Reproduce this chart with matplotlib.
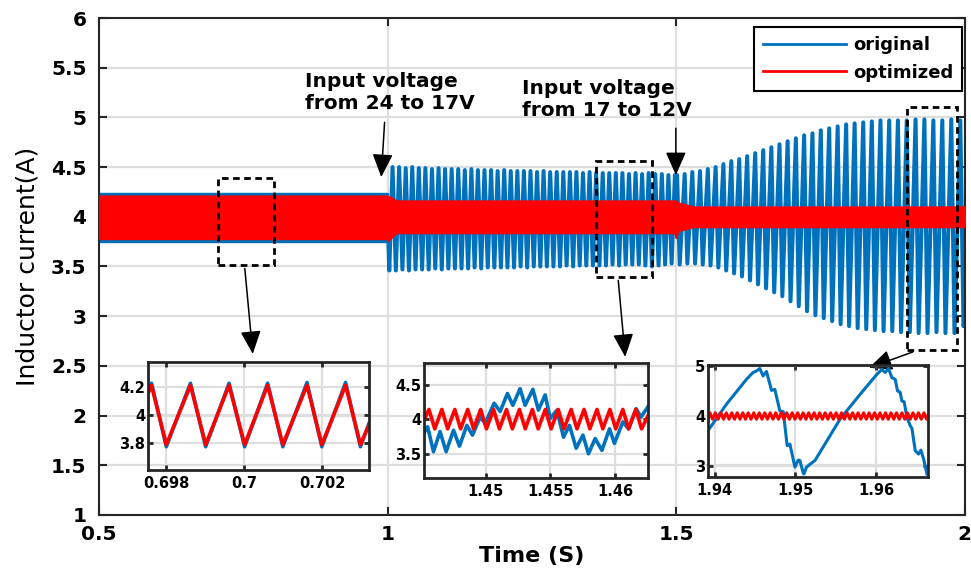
import numpy as np
import matplotlib.pyplot as plt
from matplotlib.patches import Rectangle
from matplotlib.lines import Line2D

# -------------------- DATA --------------------

# 0.5-1.0 s: 1 ms ripple is far too dense at this scale -> drawn as a band
band_t = [0.5, 1.0]
blue_band_hi = [4.24, 4.24]
blue_band_lo = [3.75, 3.75]

# optimized current: ripple band (envelope) over the whole run
red_env_t = [0.5, 1.0, 1.0, 1.004, 1.015, 1.497, 1.5, 1.5, 1.503, 1.53, 2.0]
red_env_hi = [4.21, 4.21, 4.20, 4.20, 4.16, 4.16, 4.16, 4.15, 4.14, 4.10, 4.10]
red_env_lo = [3.78, 3.78, 3.76, 3.78, 3.84, 3.84, 3.79, 3.80, 3.86, 3.90, 3.90]

# original current 1.0-1.5 s (input 17 V): low-frequency oscillation
b_trough_t = [1.0029, 1.0143, 1.0257, 1.0370, 1.0484, 1.0598, 1.0712, 1.0826, 1.0939, 1.1053,
              1.1167, 1.1281, 1.1395, 1.1508, 1.1622, 1.1736, 1.1850, 1.1964, 1.2077, 1.2191,
              1.2305, 1.2419, 1.2533, 1.2646, 1.2760, 1.2874, 1.2988, 1.3102, 1.3215, 1.3329,
              1.3443, 1.3557, 1.3671, 1.3784, 1.3898, 1.4012, 1.4126, 1.4240, 1.4353, 1.4467,
              1.4581, 1.4695, 1.4809, 1.4922]
b_trough_v = [3.46, 3.46, 3.47, 3.46, 3.47, 3.47, 3.47, 3.48, 3.47, 3.48,
              3.48, 3.48, 3.48, 3.49, 3.48, 3.49, 3.49, 3.49, 3.49, 3.49,
              3.50, 3.49, 3.50, 3.50, 3.50, 3.50, 3.50, 3.51, 3.50, 3.51,
              3.51, 3.51, 3.51, 3.51, 3.52, 3.51, 3.52, 3.52, 3.52, 3.51,
              3.50, 3.51, 3.52, 3.53]
b_peak_t = [1.0086, 1.0200, 1.0314, 1.0427, 1.0541, 1.0655, 1.0769, 1.0883, 1.0996, 1.1110,
            1.1224, 1.1338, 1.1452, 1.1565, 1.1679, 1.1793, 1.1907, 1.2021, 1.2134, 1.2248,
            1.2362, 1.2476, 1.2590, 1.2703, 1.2817, 1.2931, 1.3045, 1.3159, 1.3272, 1.3386,
            1.3500, 1.3614, 1.3728, 1.3841, 1.3955, 1.4069, 1.4183, 1.4297, 1.4410, 1.4524,
            1.4638, 1.4752, 1.4866, 1.4979]
b_peak_v = [4.50, 4.50, 4.49, 4.50, 4.49, 4.49, 4.48, 4.49, 4.48, 4.48,
            4.48, 4.47, 4.48, 4.47, 4.47, 4.47, 4.46, 4.47, 4.46, 4.46,
            4.46, 4.46, 4.45, 4.46, 4.45, 4.45, 4.45, 4.45, 4.45, 4.44,
            4.45, 4.44, 4.44, 4.44, 4.44, 4.44, 4.43, 4.44, 4.43, 4.44,
            4.43, 4.43, 4.42, 4.42]

# original current 1.5-2.0 s (input 12 V): growing oscillation
c_peak_t = [1.5016, 1.5148, 1.5281, 1.5414, 1.5549, 1.5684, 1.5819, 1.5956, 1.6093, 1.6231,
            1.6370, 1.6509, 1.6650, 1.6791, 1.6932, 1.7075, 1.7218, 1.7362, 1.7507, 1.7652,
            1.7799, 1.7946, 1.8093, 1.8242, 1.8391, 1.8541, 1.8692, 1.8843, 1.8996, 1.9149,
            1.9302, 1.9457, 1.9612, 1.9768, 1.9924]
c_peak_v = [4.42, 4.43, 4.45, 4.46, 4.48, 4.50, 4.53, 4.56, 4.58, 4.61,
            4.64, 4.67, 4.70, 4.73, 4.76, 4.79, 4.82, 4.84, 4.87, 4.89,
            4.91, 4.93, 4.94, 4.95, 4.96, 4.97, 4.97, 4.97, 4.97, 4.98,
            4.98, 4.97, 4.97, 4.98, 4.97]
c_trough_t = [1.5062, 1.5194, 1.5328, 1.5461, 1.5596, 1.5731, 1.5867, 1.6004, 1.6141, 1.6280,
              1.6419, 1.6558, 1.6699, 1.6840, 1.6982, 1.7125, 1.7268, 1.7413, 1.7558, 1.7704,
              1.7850, 1.7997, 1.8145, 1.8294, 1.8444, 1.8594, 1.8745, 1.8897, 1.9049, 1.9202,
              1.9356, 1.9511, 1.9667, 1.9823, 1.9979]
c_trough_v = [3.52, 3.53, 3.53, 3.52, 3.51, 3.49, 3.46, 3.43, 3.40, 3.36,
              3.32, 3.28, 3.24, 3.20, 3.15, 3.10, 3.05, 3.01, 2.98, 2.95,
              2.92, 2.90, 2.88, 2.87, 2.86, 2.85, 2.85, 2.84, 2.84, 2.83,
              2.83, 2.84, 2.83, 2.83, 2.90]
joint_t = [1.0, 1.5, 2.0]
joint_v = [4.00, 4.00, 2.95]

# inset 1 (around 0.7 s)
in1_t = [0.69753, 0.69762, 0.69800, 0.69862, 0.69901, 0.69961, 0.70001,
         0.70060, 0.70099, 0.70161, 0.70199, 0.70260, 0.70298, 0.70320]
in1_blue = [4.16, 4.225, 3.775, 4.225, 3.775, 4.225, 3.775,
            4.225, 3.775, 4.23, 3.775, 4.23, 3.775, 3.94]
in1_red = [4.15, 4.21, 3.79, 4.21, 3.79, 4.21, 3.79,
           4.21, 3.79, 4.21, 3.79, 4.21, 3.79, 3.93]

# inset 2 (around 1.455 s)
in2_blue_t = [1.44522, 1.44550, 1.44595, 1.44646, 1.44693, 1.44750, 1.44796, 1.44853, 1.44897,
              1.44956, 1.44995, 1.45064, 1.45111, 1.45167, 1.45209, 1.45265, 1.45304, 1.45364,
              1.45407, 1.45459, 1.45498, 1.45550, 1.45601, 1.45647, 1.45699, 1.45751, 1.45794,
              1.45846, 1.45898, 1.45957, 1.45995, 1.46060, 1.46104, 1.46163, 1.46200, 1.46255]
in2_blue_v = [3.80, 3.89, 3.53, 3.82, 3.53, 3.84, 3.61, 3.91, 3.77,
              4.03, 3.94, 4.23, 4.11, 4.37, 4.20, 4.44, 4.20, 4.43,
              4.13, 4.35, 4.01, 4.13, 3.74, 3.91, 3.58, 3.77, 3.50,
              3.72, 3.55, 3.86, 3.65, 3.96, 3.86, 4.15, 4.03, 4.18]
in2_red_t = [1.4452, 1.4456, 1.44605, 1.4466, 1.44705, 1.4476, 1.44805, 1.4486, 1.44905,
             1.4496, 1.45005, 1.4506, 1.45105, 1.4516, 1.45205, 1.4526, 1.45305, 1.4536,
             1.45405, 1.4546, 1.45505, 1.4556, 1.45605, 1.4566, 1.45705, 1.4576, 1.45805,
             1.4586, 1.45905, 1.4596, 1.46005, 1.4606, 1.46105, 1.4616, 1.46205, 1.46255]
in2_red_v = [3.98, 4.14, 3.86, 4.14, 3.86, 4.14, 3.86, 4.14, 3.86,
             4.14, 3.86, 4.14, 3.86, 4.14, 3.86, 4.14, 3.86, 4.14,
             3.86, 4.14, 3.86, 4.14, 3.86, 4.14, 3.86, 4.14, 3.86,
             4.14, 3.86, 4.14, 3.86, 4.14, 3.86, 4.14, 3.86, 4.05]

# inset 3 (around 1.95 s)
in3_blue_t = [1.93917, 1.94150, 1.94393, 1.94476, 1.94518, 1.94559, 1.94600, 1.94642, 1.94704,
              1.94745, 1.94807, 1.94850, 1.94898, 1.94932, 1.94994, 1.95035, 1.95056, 1.95097,
              1.95105, 1.95138, 1.95200, 1.95242, 1.95552, 1.95801, 1.96008, 1.96070, 1.96112,
              1.96153, 1.96194, 1.96236, 1.96265, 1.96298, 1.96318, 1.96347, 1.96380, 1.96422,
              1.96443, 1.96484, 1.96525, 1.96554, 1.96588, 1.96629]
in3_blue_v = [3.70, 4.24, 4.73, 4.87, 4.90, 4.95, 4.80, 4.89, 4.51,
              4.53, 4.10, 4.08, 3.40, 3.43, 2.97, 3.11, 3.10, 2.85,
              2.83, 2.97, 3.05, 3.10, 3.93, 4.43, 4.83, 4.93, 4.87,
              4.95, 4.77, 4.73, 4.50, 4.47, 4.30, 4.28, 3.97, 3.80,
              3.75, 3.30, 3.23, 3.31, 3.13, 2.83]
in3_red_peak_t = [1.93940, 1.94008, 1.94076, 1.94144, 1.94212, 1.94280, 1.94348, 1.94416,
                  1.94484, 1.94552, 1.94620, 1.94688, 1.94756, 1.94824, 1.94892, 1.94960,
                  1.95028, 1.95096, 1.95164, 1.95232, 1.95300, 1.95368, 1.95436, 1.95504,
                  1.95572, 1.95640, 1.95708, 1.95776, 1.95844, 1.95912, 1.95980, 1.96048,
                  1.96116, 1.96184, 1.96252, 1.96320, 1.96388, 1.96456, 1.96524, 1.96592]
in3_red_trough_t = [1.93974, 1.94042, 1.94110, 1.94178, 1.94246, 1.94314, 1.94382, 1.94450,
                    1.94518, 1.94586, 1.94654, 1.94722, 1.94790, 1.94858, 1.94926, 1.94994,
                    1.95062, 1.95130, 1.95198, 1.95266, 1.95334, 1.95402, 1.95470, 1.95538,
                    1.95606, 1.95674, 1.95742, 1.95810, 1.95878, 1.95946, 1.96014, 1.96082,
                    1.96150, 1.96218, 1.96286, 1.96354, 1.96422, 1.96490, 1.96558, 1.96626]
in3_red_hi = 4.06
in3_red_lo = 3.93

# axis ticks
main_xticks = [0.5, 1, 1.5, 2]
main_xlabels = ["0.5", "1", "1.5", "2"]
main_yticks = [1, 1.5, 2, 2.5, 3, 3.5, 4, 4.5, 5, 5.5, 6]
main_ylabels = ["1", "1.5", "2", "2.5", "3", "3.5", "4", "4.5", "5", "5.5", "6"]

BLUE = "#0072BD"
RED = "#FF0000"
GRID = "#dedede"
SPINE = "#262626"

plt.rcParams["font.family"] = ["DejaVu Sans"]
plt.rcParams["font.weight"] = "bold"


def zigzag(ta, va, tb, vb, extra_t=(), extra_v=()):
    t = np.concatenate([ta, tb, extra_t])
    v = np.concatenate([va, vb, extra_v])
    o = np.argsort(t, kind="stable")
    return t[o], v[o]


def style(ax, lw, fs, tick_len):
    for s in ax.spines.values():
        s.set_linewidth(lw)
        s.set_color(SPINE)
    ax.tick_params(direction="in", top=True, right=True, width=lw, length=tick_len,
                   labelsize=fs, color=SPINE)
    ax.grid(True, color=GRID, lw=1.6)
    ax.set_axisbelow(True)


# -------------------- FIGURE --------------------
fig = plt.figure(figsize=(9.71, 5.72), dpi=100)
ax = fig.add_axes([0.1020, 0.0997, 0.8915, 0.8688])

# band region 0.5-1.0 s
ax.fill_between(band_t, blue_band_lo, blue_band_hi, color=BLUE, lw=1, zorder=2)
# oscillating part of the original current
bt, bv = zigzag(b_trough_t, b_trough_v, b_peak_t, b_peak_v)
ct, cv = zigzag(c_peak_t, c_peak_v, c_trough_t, c_trough_v)
blue_t = np.concatenate([[joint_t[0]], bt, [joint_t[1]], ct, [joint_t[2]]])
blue_v = np.concatenate([[joint_v[0]], bv, [joint_v[1]], cv, [joint_v[2]]])
ax.plot(blue_t, blue_v, color=BLUE, lw=2.9, zorder=2)
# optimized current band
ax.fill_between(red_env_t, red_env_lo, red_env_hi, color=RED, lw=1.5, zorder=3)

ax.set_xlim(0.5, 2)
ax.set_ylim(1, 6)
ax.set_xticks(main_xticks, main_xlabels)
ax.set_yticks(main_yticks, main_ylabels)
style(ax, 1.5, 14.5, 6)
ax.tick_params(axis="y", pad=9)
ax.tick_params(axis="x", pad=7)
ax.set_xlabel("Time (S)", fontsize=16, fontweight="bold", labelpad=2)
ax.set_ylabel("Inductor current(A)", fontsize=18, fontweight="normal", labelpad=8)

# legend
handles = [Line2D([], [], color=BLUE, lw=2), Line2D([], [], color=RED, lw=2)]
leg = ax.legend(handles, ["original", "optimized"], loc="upper right",
                bbox_to_anchor=(0.997, 0.981), borderaxespad=0, fontsize=13,
                handlelength=4.6, handletextpad=0.4, borderpad=0.5, labelspacing=0.5,
                fancybox=False, framealpha=1, edgecolor="k")
leg.get_frame().set_linewidth(1.5)

# annotations for the input voltage steps
ax.text(0.8564, 5.46, "Input voltage\nfrom 24 to 17V", ha="left", va="top",
        fontsize=14.5, fontweight="bold", linespacing=1.2)
ax.text(1.2336, 5.39, "Input voltage\nfrom 17 to 12V", ha="left", va="top",
        fontsize=14.5, fontweight="bold", linespacing=1.2)
head = "-|>,head_length=0.95,head_width=0.42"
for start, tip in [((0.9948, 4.95), (0.9890, 4.40)), ((1.4995, 4.89), (1.4995, 4.42)),
                   ((0.7526, 3.48), (0.7664, 2.62)), ((1.3997, 3.36), (1.4118, 2.59)),
                   ((1.9100, 2.64), (1.8340, 2.48))]:
    ax.annotate("", xy=tip, xytext=start,
                arrowprops=dict(arrowstyle=head, color="k", lw=1.1, mutation_scale=15,
                                shrinkA=0, shrinkB=0), zorder=6)

# dashed zoom boxes
for (x0, x1, y0, y1) in [(0.706, 0.8028, 3.515, 4.39), (1.361, 1.459, 3.397, 4.564),
                         (1.900, 1.987, 2.66, 5.108)]:
    ax.add_patch(Rectangle((x0, y0), x1 - x0, y1 - y0, fill=False, ec="k", lw=2,
                           ls=(0, (2.4, 1.6)), zorder=5))

# -------------------- INSETS --------------------
ins1 = fig.add_axes([0.1524, 0.1783, 0.2276, 0.1888])
ins1.plot(in1_t, in1_blue, color=BLUE, lw=2.6)
ins1.plot(in1_t, in1_red, color=RED, lw=2.6)
ins1.set_xlim(0.69753, 0.70320)
ins1.set_ylim(3.61, 4.375)
ins1.set_xticks([0.698, 0.7, 0.702], ["0.698", "0.7", "0.702"])
ins1.set_yticks([3.8, 4, 4.2], ["3.8", "4", "4.2"])

ins2 = fig.add_axes([0.4367, 0.1643, 0.2307, 0.2010])
ins2.plot(in2_blue_t, in2_blue_v, color=BLUE, lw=2.6)
ins2.plot(in2_red_t, in2_red_v, color=RED, lw=2.6)
ins2.set_xlim(1.44522, 1.46255)
ins2.set_ylim(3.15, 4.81)
ins2.set_xticks([1.45, 1.455, 1.46], ["1.45", "1.455", "1.46"])
ins2.set_yticks([3.5, 4, 4.5], ["3.5", "4", "4.5"])

ins3 = fig.add_axes([0.7291, 0.1661, 0.2266, 0.1958])
ins3.plot(in3_blue_t, in3_blue_v, color=BLUE, lw=2.2)
rt, rv = zigzag(in3_red_peak_t, [in3_red_hi] * len(in3_red_peak_t),
                in3_red_trough_t, [in3_red_lo] * len(in3_red_trough_t),
                [1.93917, 1.96642], [3.98, 4.00])
ins3.plot(rt, rv, color=RED, lw=2.2)
ins3.set_xlim(1.93917, 1.96642)
ins3.set_ylim(2.77, 5.02)
ins3.set_xticks([1.94, 1.95, 1.96], ["1.94", "1.95", "1.96"])
ins3.set_yticks([3, 4, 5], ["3", "4", "5"])

for a in (ins1, ins2, ins3):
    a.set_facecolor("none")
    style(a, 2.0, 10.5, 3.5)
    a.tick_params(axis="y", pad=2)
    a.tick_params(axis="x", pad=4)

fig.savefig("out.png", dpi=100)
